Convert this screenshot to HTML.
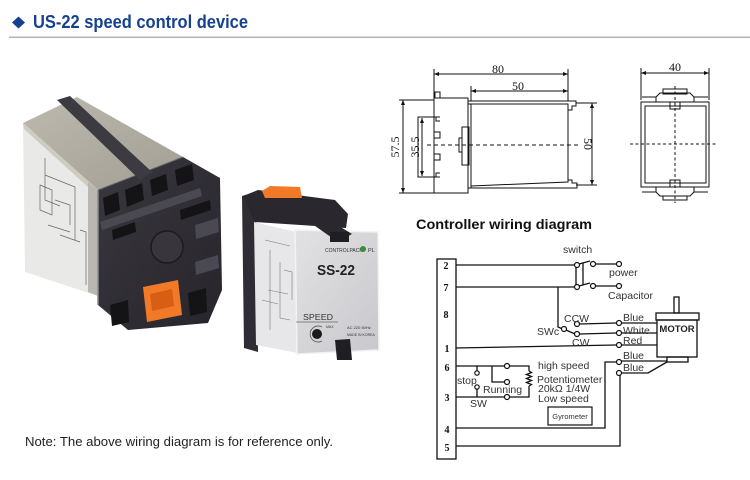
<!DOCTYPE html>
<html><head><meta charset="utf-8"><style>
html,body{margin:0;padding:0;background:#fff;}
svg{display:block;}
</style></head><body>
<svg width="750" height="480" viewBox="0 0 750 480" xmlns="http://www.w3.org/2000/svg">
<defs>
<marker id="ar" viewBox="0 0 10 10" refX="10" refY="5" markerWidth="6" markerHeight="5" orient="auto-start-reverse" markerUnits="userSpaceOnUse"><path d="M0,1 L10,5 L0,9 z" fill="#111"/></marker>
<linearGradient id="gtop" x1="0" y1="0" x2="1" y2="1"><stop offset="0" stop-color="#bdb9ae"/><stop offset="1" stop-color="#a29e94"/></linearGradient>
<linearGradient id="gface" x1="0" y1="0" x2="1" y2="1"><stop offset="0" stop-color="#e2e2e4"/><stop offset="1" stop-color="#c8c8cc"/></linearGradient>
<linearGradient id="gsock" x1="0" y1="0" x2="1" y2="1"><stop offset="0" stop-color="#3a383f"/><stop offset="1" stop-color="#27252b"/></linearGradient>
</defs>
<rect width="750" height="480" fill="#fff"/>

<!-- Header -->
<polygon points="18.5,16.5 25,22.5 18.5,28.5 12,22.5" fill="#15418f"/>
<text x="33" y="28" font-family="Liberation Sans, Arial, sans-serif" font-weight="bold" font-size="18" fill="#15418f" textLength="215" lengthAdjust="spacingAndGlyphs">US-22 speed control device</text>
<rect x="9" y="36.5" width="741" height="1.5" fill="#b4b4b4"/>

<!-- ===== Photo: left device ===== -->
<polygon points="23,123 77,97 183,157 98,190" fill="url(#gtop)"/>
<polygon points="23,123 98,190 98,296 25,272" fill="#e9e9e7"/>
<polygon points="23,123 98,190 98,196 24,129" fill="#cfcbbf"/>
<polygon points="88,182 98,190 98,296 88,292" fill="#b9b7b0"/>
<g stroke="#666" stroke-width="0.7" fill="none">
<path d="M45,158 L45,200 L60,206 M45,175 L75,187 L75,240 M55,200 L70,205 L70,225 M40,185 L52,190 L52,215 L40,210 Z M80,230 L86,232 L86,285 M60,235 L80,242 M48,225 L70,232"/>
</g>
<polygon points="98,190 183,157 220,178 222,290 208,323 128,330 98,305" fill="url(#gsock)"/>
<line x1="98" y1="190" x2="98" y2="305" stroke="#8a8890" stroke-width="1.5"/>
<line x1="98" y1="190" x2="183" y2="157" stroke="#6a6870" stroke-width="1"/>
<g fill="#141316">
<polygon points="103,198 118,192 120,210 105,216"/>
<polygon points="125,190 142,183 144,200 127,207"/>
<polygon points="150,180 166,174 168,190 152,196"/>
<polygon points="175,170 192,164 194,180 177,186"/>
<polygon points="112,230 135,222 136,232 113,240"/>
<polygon points="180,210 210,200 211,210 181,220"/>
<polygon points="110,305 128,300 129,322 112,326"/>
<polygon points="188,293 206,288 207,312 190,316"/>
</g>
<g fill="#4a4850">
<polygon points="100,222 200,188 202,196 102,230"/>
<polygon points="195,225 218,218 219,232 196,239"/>
<polygon points="195,262 218,255 219,268 196,275"/>
</g>
<circle cx="167" cy="247" r="16" fill="#38363c" stroke="#1c1b1f" stroke-width="1.5"/>
<polygon points="57,100 70,96 152,172 140,180" fill="#3d3b42"/>
<polygon points="143,287 178,280 182,315 147,322" fill="#f07a28"/>
<polygon points="150,294 172,289 174,306 152,311" fill="#d85e14"/>

<!-- ===== Photo: right device ===== -->
<polygon points="242,196 256,192 258,352 244,348" fill="#2f2d33"/>
<polygon points="243,196 258,190 335,200 348,214 346,228 255,222" fill="#2a282e"/>
<polygon points="262,191 270,186 300,187 302,198 265,198" fill="#f07a28"/>
<polygon points="254,222 296,232 298,353 256,345" fill="#e7e7e9"/>
<g stroke="#777" stroke-width="0.6" fill="none">
<path d="M265,240 L290,246 M270,250 L270,330 M280,262 L280,318 L290,320 M268,290 L288,294 M262,300 L278,304 M284,270 L292,272 L292,300"/>
</g>
<polygon points="295,230 378,232 379,350 297,354" fill="url(#gface)" stroke="#f2f2f2" stroke-width="1.5"/>
<polygon points="285,205 300,202 352,234 338,242" fill="#2a282e"/>
<rect x="330" y="232" width="19" height="10" fill="#1f1e22"/>
<text x="325" y="252" font-family="Liberation Sans, Arial, sans-serif" font-size="5" fill="#333">CONTROLPACK</text>
<circle cx="363" cy="249" r="3" fill="#3c8a3c"/>
<text x="368" y="252" font-family="Liberation Sans, Arial, sans-serif" font-size="5.5" fill="#333">PL</text>
<text x="317" y="275" font-family="Liberation Sans, Arial, sans-serif" font-weight="bold" font-size="15" fill="#222" textLength="38" lengthAdjust="spacingAndGlyphs">SS-22</text>
<text x="303" y="320" font-family="Liberation Sans, Arial, sans-serif" font-size="8" fill="#333" textLength="30" lengthAdjust="spacingAndGlyphs">SPEED</text>
<line x1="296" y1="322" x2="338" y2="322" stroke="#666" stroke-width="0.8"/>
<path d="M322,327 A8,8 0 1,0 322,341" fill="none" stroke="#555" stroke-width="0.8"/>
<circle cx="317" cy="334" r="5" fill="#1a1a1a"/>
<text x="326" y="328" font-family="Liberation Sans, Arial, sans-serif" font-size="3.5" fill="#333">MAX</text>
<text x="347" y="329" font-family="Liberation Sans, Arial, sans-serif" font-size="4" fill="#333">AC 220 50Hz</text>
<text x="347" y="336" font-family="Liberation Sans, Arial, sans-serif" font-size="3.5" fill="#333">MADE IN KOREA</text>
<polygon points="335,340 350,339 352,360 337,360" fill="#1f1e22"/>

<!-- ===== Dimension drawing (side) ===== -->
<g stroke="#111" stroke-width="1" fill="none">
<line x1="434" y1="74" x2="568" y2="74" marker-start="url(#ar)" marker-end="url(#ar)"/>
<line x1="434" y1="69" x2="434" y2="98"/>
<line x1="568" y1="69" x2="568" y2="101"/>
<line x1="471" y1="91" x2="568" y2="91" marker-start="url(#ar)" marker-end="url(#ar)"/>
<line x1="471" y1="86" x2="471" y2="101"/>
<!-- body -->
<path d="M468,101 L570,101 M468,104 L568,104 L568,182 L471,186 M471,104 L471,188 M468,188 L570,188"/>
<path d="M568,101 L576,101 L576,106 L572,106 L572,110 L568,110"/>
<path d="M568,180 L572,180 L572,183 L577,183 L577,188 L568,188"/>
<rect x="434" y="98" width="34" height="95"/>
<rect x="435" y="92" width="5" height="6"/>
<path d="M440,117 L418,117 L418,177 L440,177 M436,117 L436,121 L440,121 M436,177 L436,173 L440,173"/>
<rect x="434" y="132" width="6" height="6"/>
<rect x="434" y="154" width="6" height="6"/>
<rect x="462" y="127" width="7" height="38"/>
<rect x="459" y="138" width="3" height="14"/>
<line x1="427" y1="145" x2="578" y2="145" stroke-dasharray="4,3"/>
<!-- 57.5 -->
<line x1="403" y1="100" x2="403" y2="193" marker-start="url(#ar)" marker-end="url(#ar)"/>
<line x1="399" y1="100" x2="434" y2="100"/>
<line x1="399" y1="193" x2="434" y2="193"/>
<!-- 35.5 -->
<line x1="422" y1="118" x2="422" y2="176" marker-start="url(#ar)" marker-end="url(#ar)"/>
<!-- 50 right -->
<line x1="592" y1="103" x2="592" y2="185" marker-start="url(#ar)" marker-end="url(#ar)"/>
<line x1="576" y1="103" x2="597" y2="103"/>
<line x1="576" y1="185" x2="597" y2="185"/>
</g>
<g font-family="Liberation Serif, serif" font-size="12" fill="#111" text-anchor="middle">
<text x="498" y="73">80</text>
<text x="518" y="90">50</text>
<text transform="translate(399,147) rotate(-90)">57.5</text>
<text transform="translate(419,147) rotate(-90)">35.5</text>
<text transform="translate(584,144) rotate(90)">50</text>
<text x="675" y="71">40</text>
</g>

<!-- ===== Dimension drawing (front) ===== -->
<g stroke="#111" stroke-width="1" fill="none">
<line x1="641" y1="73" x2="709" y2="73" marker-start="url(#ar)" marker-end="url(#ar)"/>
<line x1="641" y1="68" x2="641" y2="100"/>
<line x1="709" y1="68" x2="709" y2="100"/>
<rect x="641" y="102" width="68" height="85"/>
<rect x="645" y="106" width="61" height="77"/>
<path d="M642,97 L656,97 L656,102 M694,102 L694,97 L708,97 M656,97 L660,93 L690,93 L694,97"/>
<rect x="663" y="89" width="24" height="5"/>
<rect x="670" y="102" width="10" height="7"/>
<path d="M642,192 L656,192 L656,187 M694,187 L694,192 L708,192 M656,192 L660,196 L690,196 L694,192"/>
<rect x="663" y="196" width="24" height="4"/>
<rect x="670" y="180" width="10" height="7"/>
<line x1="675" y1="86" x2="675" y2="203" stroke-dasharray="3,2.5"/>
<line x1="630" y1="144" x2="718" y2="144" stroke-dasharray="3,2.5"/>
</g>

<!-- ===== Wiring diagram ===== -->
<text x="416" y="229" font-family="Liberation Sans, Arial, sans-serif" font-weight="bold" font-size="14" fill="#111" textLength="176" lengthAdjust="spacingAndGlyphs">Controller wiring diagram</text>

<g stroke="#111" stroke-width="1.3" fill="none">
<rect x="437" y="259" width="19" height="200"/>
<!-- 2 -->
<line x1="456" y1="265" x2="574.5" y2="265"/>
<line x1="579" y1="264" x2="590" y2="261"/>
<line x1="595.5" y1="264" x2="616.5" y2="264"/>
<!-- 7 -->
<line x1="456" y1="287" x2="574.5" y2="287"/>
<line x1="579" y1="286" x2="590" y2="283"/>
<line x1="595.5" y1="286" x2="616.5" y2="286"/>
<line x1="583" y1="263" x2="583" y2="285"/>
<line x1="576" y1="267" x2="576" y2="285"/>
<!-- SWc -->
<path d="M558,287 L558,327 L561.5,328.5"/>
<line x1="566" y1="330" x2="575" y2="334"/>
<line x1="579.5" y1="324" x2="616.5" y2="323"/>
<line x1="579.5" y1="334" x2="616.5" y2="333"/>
<!-- 1 -->
<line x1="456" y1="348" x2="616.5" y2="345"/>
<!-- to motor -->
<line x1="621.5" y1="323" x2="657" y2="323"/>
<line x1="621.5" y1="333" x2="657" y2="333"/>
<line x1="621.5" y1="345" x2="657" y2="345"/>
<!-- motor -->
<rect x="674" y="297" width="5" height="16"/>
<rect x="656" y="313" width="43" height="7"/>
<rect x="657" y="320" width="40" height="37"/>
<rect x="667" y="357" width="21" height="5"/>
<!-- 4 & 5 -->
<path d="M456,428 L605,428 L605,362 L616.5,362"/>
<path d="M621.5,361 L667,361"/>
<path d="M456,446 L620,446 L620,375.5"/>
<path d="M621.5,373 L648,373 L667,362"/>
<!-- 6 / 3 speed -->
<line x1="456" y1="366" x2="504.5" y2="366"/>
<path d="M509.5,366 L529,366 L529,371"/>
<polyline points="529,371 531.5,372.5 526.5,374.5 531.5,376.5 526.5,378.5 531.5,380.5 526.5,382.5 531.5,384.5 529,386"/>
<path d="M529,386 L529,397 L509.5,397"/>
<line x1="456" y1="397" x2="504.5" y2="397"/>
<path d="M492,366 L492,382 L504.5,382"/>
<line x1="477" y1="366" x2="477" y2="371"/>
<line x1="477" y1="389" x2="477" y2="397"/>
</g>
<g stroke="#111" stroke-width="1.2" fill="#fff">
<circle cx="577" cy="265" r="2.5"/>
<circle cx="593" cy="264" r="2.5"/>
<circle cx="619" cy="264" r="2.5"/>
<circle cx="577" cy="287" r="2.5"/>
<circle cx="593" cy="286" r="2.5"/>
<circle cx="619" cy="286" r="2.5"/>
<circle cx="564" cy="329" r="2.5"/>
<circle cx="577" cy="324" r="2.5"/>
<circle cx="577" cy="334" r="2.5"/>
<circle cx="619" cy="323" r="2.5"/>
<circle cx="619" cy="333" r="2.5"/>
<circle cx="619" cy="345" r="2.5"/>
<circle cx="619" cy="362" r="2.5"/>
<circle cx="619" cy="373" r="2.5"/>
<circle cx="507" cy="366" r="2.5"/>
<circle cx="507" cy="382" r="2.5"/>
<circle cx="507" cy="397" r="2.5"/>
<circle cx="477" cy="373" r="2.2"/>
<circle cx="477" cy="387" r="2.2"/>
</g>
<rect x="548" y="407" width="44" height="18" fill="#fff" stroke="#111" stroke-width="1.2"/>

<g font-family="Liberation Serif, serif" font-weight="bold" font-size="10" fill="#111" text-anchor="middle">
<text x="446" y="269">2</text>
<text x="446" y="291">7</text>
<text x="446" y="318">8</text>
<text x="447" y="352">1</text>
<text x="447" y="371">6</text>
<text x="447" y="401">3</text>
<text x="447" y="433">4</text>
<text x="447" y="451">5</text>
</g>
<g font-family="Liberation Sans, Arial, sans-serif" font-size="10.5" fill="#333">
<text x="563" y="253">switch</text>
<text x="609" y="276">power</text>
<text x="608" y="299">Capacitor</text>
<text x="564" y="322">CCW</text>
<text x="537" y="335">SWc</text>
<text x="572" y="346">CW</text>
<text x="623" y="321">Blue</text>
<text x="623" y="334">White</text>
<text x="623" y="344">Red</text>
<text x="623" y="359">Blue</text>
<text x="623" y="371">Blue</text>
<text x="538" y="369">high speed</text>
<text x="537" y="383">Potentiometer</text>
<text x="538" y="392">20kΩ 1/4W</text>
<text x="538" y="402">Low speed</text>
<text x="457" y="384">stop</text>
<text x="483" y="393">Running</text>
<text x="470" y="407">SW</text>
</g>
<text x="677" y="332" font-family="Liberation Sans, Arial, sans-serif" font-weight="bold" font-size="9.5" fill="#222" text-anchor="middle">MOTOR</text>
<text x="570" y="419" font-family="Liberation Sans, Arial, sans-serif" font-size="7.5" fill="#333" text-anchor="middle">Gyrometer</text>

<!-- Note -->
<text x="25" y="446" font-family="Liberation Sans, Arial, sans-serif" font-size="13" fill="#222" textLength="308" lengthAdjust="spacingAndGlyphs">Note: The above wiring diagram is for reference only.</text>
</svg>
</body></html>
